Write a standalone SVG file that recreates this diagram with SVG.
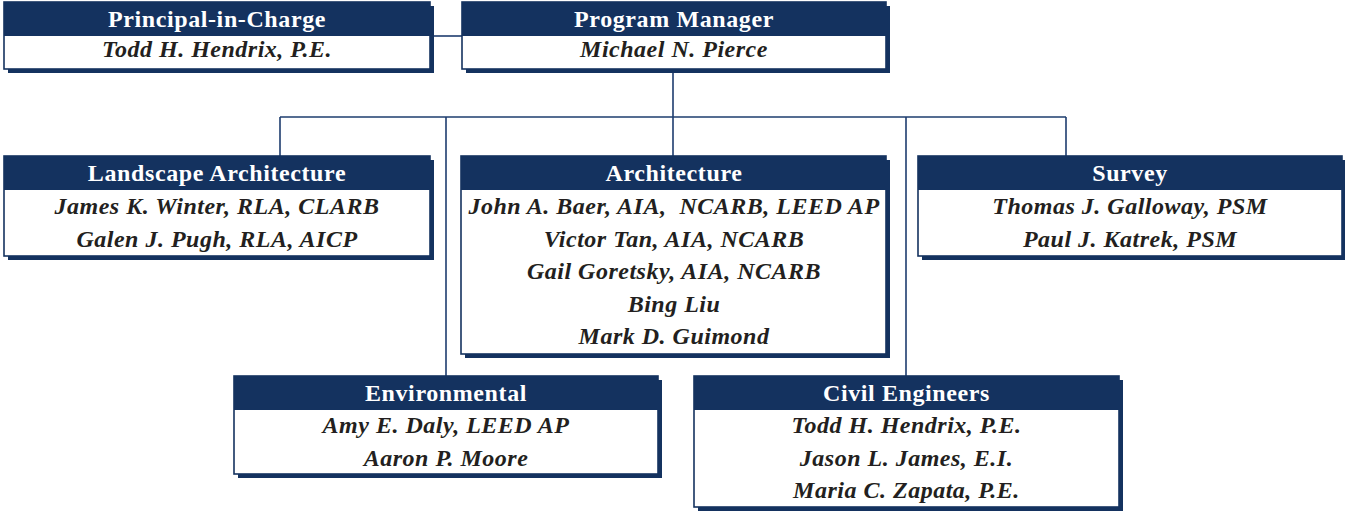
<svg xmlns="http://www.w3.org/2000/svg" width="1345" height="513" viewBox="0 0 1345 513">
  <style>
    .shadow { fill: #14325f; }
    .body { fill: #ffffff; stroke: #14325f; stroke-width: 1.6; }
    .head { fill: #14325f; }
    .title { font-family: "Liberation Serif", "Times New Roman", serif; font-weight: bold; font-size: 24px; letter-spacing: 0.6px; fill: #ffffff; text-anchor: middle; }
    .name { font-family: "Liberation Serif", "Times New Roman", serif; font-weight: bold; font-style: italic; font-size: 24px; letter-spacing: 0.5px; fill: #231f20; text-anchor: middle; }
    .link { fill: none; stroke: #1d3c6e; stroke-width: 1.6; }
  </style>

  <!-- connectors -->
  <g id="connectors" class="link">
    <path d="M430 36 H462"/>
    <path d="M673 69 V117"/>
    <path d="M280 117 H1066"/>
    <path d="M280 117 V156"/>
    <path d="M446 117 V376"/>
    <path d="M673 117 V156"/>
    <path d="M906 117 V376"/>
    <path d="M1066 117 V156"/>
  </g>

  <!-- Principal-in-Charge -->
  <g id="principal">
    <rect class="shadow" x="8" y="6" width="426" height="67"/>
    <rect class="body" x="4" y="2" width="426" height="67"/>
    <rect class="head" x="4" y="2" width="426" height="34"/>
    <text class="title" x="217" y="27">Principal-in-Charge</text>
    <text class="name" x="217" y="57">Todd H. Hendrix, P.E.</text>
  </g>

  <!-- Program Manager -->
  <g id="program-manager">
    <rect class="shadow" x="466" y="6" width="424" height="67"/>
    <rect class="body" x="462" y="2" width="424" height="67"/>
    <rect class="head" x="462" y="2" width="424" height="34"/>
    <text class="title" x="674" y="27">Program Manager</text>
    <text class="name" x="674" y="57">Michael N. Pierce</text>
  </g>

  <!-- Landscape Architecture -->
  <g id="landscape">
    <rect class="shadow" x="8" y="160" width="426" height="100"/>
    <rect class="body" x="4" y="156" width="426" height="100"/>
    <rect class="head" x="4" y="156" width="426" height="34"/>
    <text class="title" x="217" y="181">Landscape Architecture</text>
    <text class="name" x="217" y="214">James K. Winter, RLA, CLARB</text>
    <text class="name" x="217" y="247">Galen J. Pugh, RLA, AICP</text>
  </g>

  <!-- Architecture -->
  <g id="architecture">
    <rect class="shadow" x="465" y="160" width="425" height="198"/>
    <rect class="body" x="461" y="156" width="425" height="198"/>
    <rect class="head" x="461" y="156" width="425" height="34"/>
    <text class="title" x="674" y="181">Architecture</text>
    <text class="name" x="674" y="214" xml:space="preserve">John A. Baer, AIA,  NCARB, LEED AP</text>
    <text class="name" x="674" y="246.5">Victor Tan, AIA, NCARB</text>
    <text class="name" x="674" y="279">Gail Goretsky, AIA, NCARB</text>
    <text class="name" x="674" y="311.5">Bing Liu</text>
    <text class="name" x="674" y="344">Mark D. Guimond</text>
  </g>

  <!-- Survey -->
  <g id="survey">
    <rect class="shadow" x="922" y="160" width="424" height="100"/>
    <rect class="body" x="918" y="156" width="424" height="100"/>
    <rect class="head" x="918" y="156" width="424" height="34"/>
    <text class="title" x="1130" y="181">Survey</text>
    <text class="name" x="1130" y="214">Thomas J. Galloway, PSM</text>
    <text class="name" x="1130" y="247">Paul J. Katrek, PSM</text>
  </g>

  <!-- Environmental -->
  <g id="environmental">
    <rect class="shadow" x="238" y="380" width="424" height="98"/>
    <rect class="body" x="234" y="376" width="424" height="98"/>
    <rect class="head" x="234" y="376" width="424" height="34"/>
    <text class="title" x="446" y="401">Environmental</text>
    <text class="name" x="446" y="433">Amy E. Daly, LEED AP</text>
    <text class="name" x="446" y="466">Aaron P. Moore</text>
  </g>

  <!-- Civil Engineers -->
  <g id="civil">
    <rect class="shadow" x="698" y="380" width="425" height="131"/>
    <rect class="body" x="694" y="376" width="425" height="131"/>
    <rect class="head" x="694" y="376" width="425" height="34"/>
    <text class="title" x="906.5" y="401">Civil Engineers</text>
    <text class="name" x="906.5" y="433">Todd H. Hendrix, P.E.</text>
    <text class="name" x="906.5" y="466">Jason L. James, E.I.</text>
    <text class="name" x="906.5" y="498">Maria C. Zapata, P.E.</text>
  </g>
</svg>
